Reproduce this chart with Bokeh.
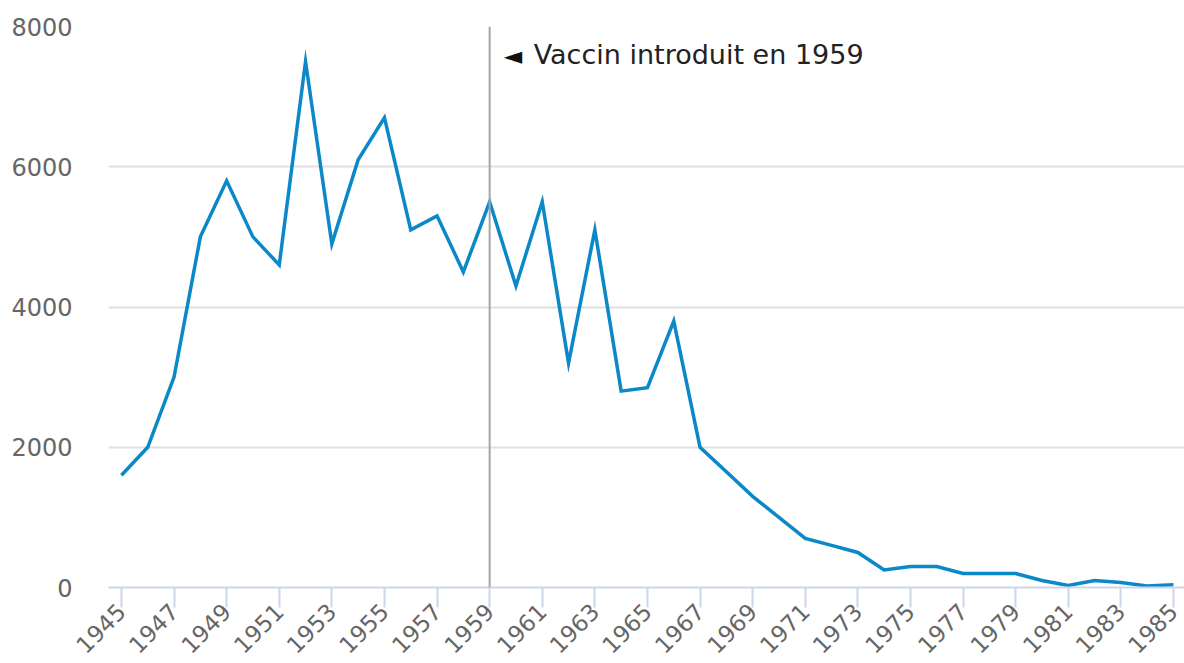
import math
from bokeh.plotting import figure
from bokeh.models import Range1d, FixedTicker, Span, Label
from bokeh.embed import file_html
from bokeh.resources import INLINE

# ---- data ----
years = list(range(1945, 1986))
cases = [1600, 2000, 3000, 5000, 5800, 5000, 4600, 7500, 4900, 6100,
         6700, 5100, 5300, 4500, 5500, 4300, 5500, 3200, 5100, 2800,
         2850, 3800, 2000, 1650, 1300, 1000, 700, 600, 500, 250,
         300, 300, 200, 200, 200, 100, 30, 100, 70, 20, 40]
x_ticks = years[::2]
y_ticks = [0, 2000, 4000, 6000, 8000]
vaccine_year = 1959
vaccine_marker = "\u25c4"
vaccine_text = "Vaccin introduit en 1959"

FONT = "DejaVu Sans"

p = figure(width=1184, height=663, output_backend="svg", toolbar_location=None,
           x_range=Range1d(1944.508, 1985.42), y_range=Range1d(0, 8000),
           min_border_left=108, min_border_right=0, min_border_top=26,
           min_border_bottom=74, outline_line_color=None,
           background_fill_color="white", border_fill_color="white")

p.line(years, cases, line_color="#0a88c8", line_width=3.5, line_join="miter")

# grid
p.xgrid.visible = False
p.ygrid.grid_line_color = "#e0e0e0"
p.ygrid.grid_line_width = 2
p.ygrid.ticker = FixedTicker(ticks=y_ticks)

# x axis
xa = p.xaxis[0]
xa.ticker = FixedTicker(ticks=x_ticks)
xa.axis_line_color = "#ccd6eb"
xa.axis_line_width = 2
xa.major_tick_line_color = "#ccd6eb"
xa.major_tick_line_width = 2
xa.major_tick_out = 20
xa.major_tick_in = 0
xa.minor_tick_line_color = None
xa.major_label_orientation = math.pi / 4
xa.major_label_text_font = FONT
xa.major_label_text_font_size = "23px"
xa.major_label_text_color = "#666666"
xa.major_label_standoff = 0

# y axis
ya = p.yaxis[0]
ya.ticker = FixedTicker(ticks=y_ticks)
ya.axis_line_color = None
ya.major_tick_line_color = None
ya.minor_tick_line_color = None
ya.major_tick_out = 0
ya.major_label_standoff = 36
ya.major_label_text_font = FONT
ya.major_label_text_font_size = "24px"
ya.major_label_text_color = "#666666"

# vaccine annotation
p.add_layout(Span(location=vaccine_year, dimension="height",
                  line_color="#a6a6a6", line_width=2))
p.add_layout(Label(x=vaccine_year, y=8000, x_offset=14, y_offset=-29,
                   text=vaccine_marker, text_font=FONT, text_font_size="24px",
                   text_color="#111111", text_baseline="middle",
                   text_align="left"))
p.add_layout(Label(x=vaccine_year, y=8000, x_offset=44, y_offset=-28,
                   text=vaccine_text, text_font=FONT, text_font_size="27px",
                   text_color="#222222", text_baseline="middle",
                   text_align="left"))

open("out.html", "w").write(file_html(p, INLINE))
